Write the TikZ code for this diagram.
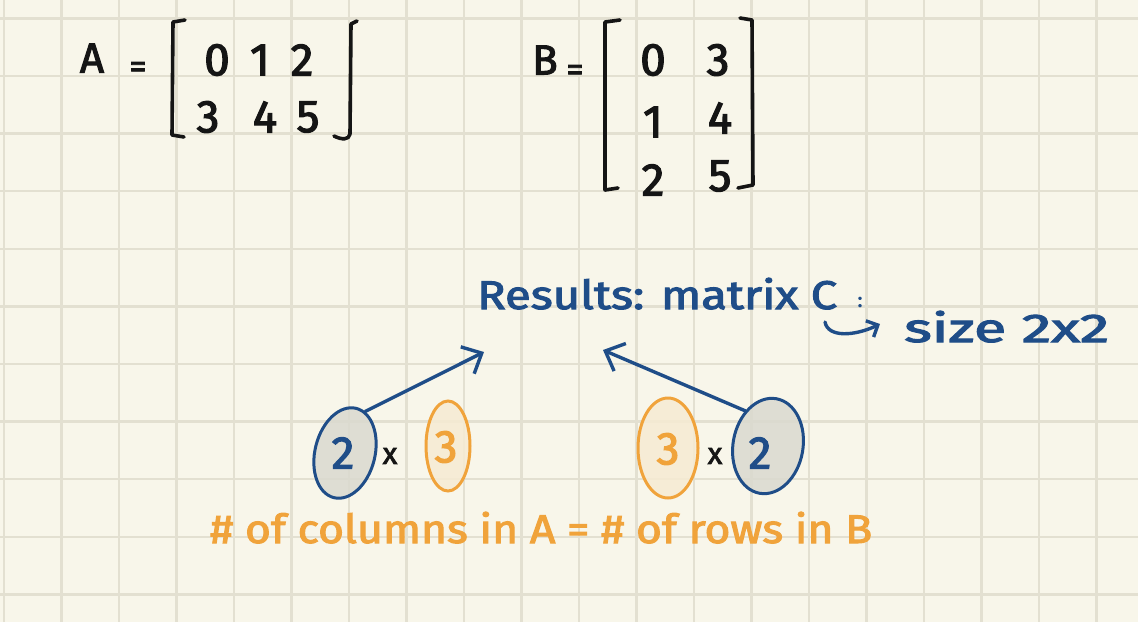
\documentclass[tikz,border=0pt]{standalone}
\usepackage{fontspec}
\setmainfont{Fira Sans}[FakeBold=2.5]
\usetikzlibrary{arrows.meta,shapes.geometric}
\definecolor{paper}{HTML}{F8F6EA}
\definecolor{gridc}{HTML}{E3E0D1}
\definecolor{ink}{HTML}{151515}
\definecolor{penblue}{HTML}{1F4D88}
\definecolor{penorange}{HTML}{F0A33B}
\definecolor{shadeblue}{HTML}{DAD9CF}
\definecolor{shadeorange}{HTML}{F6EBD3}
\newcommand{\fsz}[1]{\fontsize{#1}{#1}\selectfont}
\begin{document}
\begin{tikzpicture}[x=1pt,y=-1pt,
  gridline/.style={gridc,line width=2.4pt},
  inktext/.style={text=ink,inner sep=0pt},
  bluetext/.style={text=penblue,inner sep=0pt},
  orangetext/.style={text=penorange,inner sep=0pt},
  bracket/.style={draw=ink,line width=3.6pt,line cap=round,line join=round},
  bluering/.style={ellipse,draw=penblue,line width=3pt,fill=shadeblue,fill opacity=0.85,inner sep=0pt},
  orangering/.style={ellipse,draw=penorange,line width=3pt,fill=shadeorange,fill opacity=0.85,inner sep=0pt},
  penarrow/.style={draw=penblue,line width=3.4pt,line cap=round,-{Straight Barb[length=16pt,width=30pt,line width=3.4pt]}},
  hookarrow/.style={draw=penblue,line width=3.4pt,line cap=round,-{Straight Barb[length=9pt,width=18pt,line width=3.4pt]}},
]
\fill[paper] (0,0) rectangle (1138,622);
\useasboundingbox (0,0) rectangle (1138,622);
\foreach \i in {0,...,19} \draw[gridline] ({4+57.5*\i},0) -- ({4+57.5*\i},622);
\foreach \j in {0,...,10} \draw[gridline] (0,{18.3+57.6*\j}) -- (1138,{18.3+57.6*\j});

% matrix A
\node[inktext,font=\fsz{42}] (lblA) at (92,58) {A};
\node[inktext,font=\fsz{34}] (eqA) at (138,70) {=};
\draw[bracket] (185,20) -- (173,22) -- (172,135) -- (184,137);
\draw[bracket] (357,21) -- (351,24) -- (350,134) .. controls (349,140) and (342,140) .. (334,136);
\node[inktext,font=\fsz{46}] (a11) at (217,60) {0};
\node[inktext,font=\fsz{46}] (a12) at (260,60) {1};
\node[inktext,font=\fsz{46}] (a13) at (302,60) {2};
\node[inktext,font=\fsz{46}] (a21) at (208,117) {3};
\node[inktext,font=\fsz{46}] (a22) at (265,117) {4};
\node[inktext,font=\fsz{46}] (a23) at (308,117) {5};

% matrix B
\node[inktext,font=\fsz{42}] (lblB) at (545,60) {B};
\node[inktext,font=\fsz{34}] (eqB) at (575,73) {=};
\draw[bracket] (620,20) -- (605,22) -- (605,190) -- (618,188);
\draw[bracket] (740,18) -- (752,20) -- (753,185) -- (738,188);
\node[inktext,font=\fsz{46}] (b11) at (653,60) {0};
\node[inktext,font=\fsz{46}] (b12) at (718,60) {3};
\node[inktext,font=\fsz{46}] (b21) at (653,122) {1};
\node[inktext,font=\fsz{46}] (b22) at (720,118) {4};
\node[inktext,font=\fsz{46}] (b31) at (653,180) {2};
\node[inktext,font=\fsz{46}] (b32) at (720,176) {5};

% result
\node[bluetext,font=\fsz{40},anchor=base west] (res) at (477,309) {\resizebox{360pt}{\height}{Results: matrix C}};
\node[bluetext,font=\fsz{20}] (colC) at (860,302) {:};
\node[bluetext,font=\fsz{40},anchor=base west] (size) at (904,342) {\resizebox{205pt}{\height}{size 2x2}};
\coordinate (hookstart) at (825,322);
\coordinate (hookend) at (880,324);
\draw[hookarrow] (hookstart) .. controls (828,338) and (855,336) .. (hookend);

% dimension ellipses
\node[bluering,minimum width=60pt,minimum height=92pt,rotate=-14] (e1) at (345,453) {};
\node[bluetext,font=\fsz{46}] (d1) at (343,453) {2};
\node[inktext,font=\fsz{30}] (x1) at (390,456) {x};
\node[orangering,minimum width=44pt,minimum height=90pt] (e2) at (448,446) {};
\node[orangetext,font=\fsz{46}] (d2) at (446,447) {3};
\node[orangering,minimum width=60pt,minimum height=100pt] (e3) at (668,448) {};
\node[orangetext,font=\fsz{46}] (d3) at (668,449) {3};
\node[inktext,font=\fsz{30}] (x2) at (715,456) {x};
\node[bluering,minimum width=70pt,minimum height=96pt,rotate=-10] (e4) at (768,446) {};
\node[bluetext,font=\fsz{46}] (d4) at (760,453) {2};

\coordinate (tipL) at (484,352);
\coordinate (tipR) at (603,350);
\draw[penarrow] (e1.78) -- (tipL);
\draw[penarrow] (e4.133) -- (tipR);

% rule
\node[orangetext,font=\fsz{40},anchor=base west] (rule) at (210,543) {\resizebox{662pt}{\height}{\# of columns in A = \# of rows in B}};
\end{tikzpicture}
\end{document}
